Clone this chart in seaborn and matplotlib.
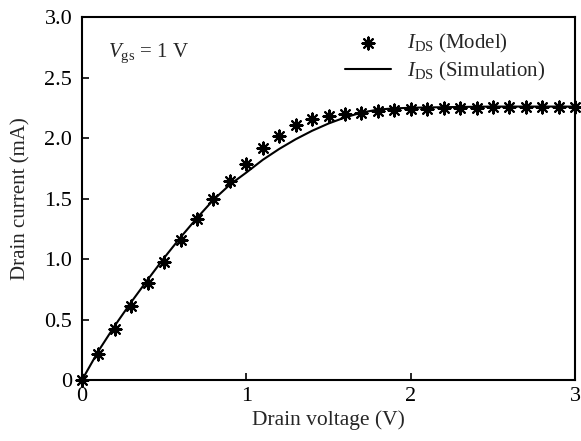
import numpy as np
import pandas as pd
import matplotlib
matplotlib.use("Agg")
import matplotlib.pyplot as plt
import seaborn as sns

# Data
vd_model = [0.0, 0.1, 0.2, 0.3, 0.4, 0.5, 0.6, 0.7, 0.8, 0.9, 1.0,
            1.1, 1.2, 1.3, 1.4, 1.5, 1.6, 1.7, 1.8, 1.9, 2.0,
            2.1, 2.2, 2.3, 2.4, 2.5, 2.6, 2.7, 2.8, 2.9, 3.0]
id_model = [0.0, 0.22, 0.42, 0.61, 0.80, 0.98, 1.16, 1.33, 1.50, 1.645, 1.785,
            1.92, 2.02, 2.11, 2.16, 2.18, 2.20, 2.21, 2.225, 2.23, 2.24,
            2.24, 2.245, 2.25, 2.25, 2.255, 2.255, 2.26, 2.26, 2.26, 2.26]
vd_sim = [0.0, 0.1, 0.2, 0.3, 0.4, 0.5, 0.6, 0.7, 0.8, 0.9, 1.0,
          1.1, 1.2, 1.3, 1.4, 1.5, 1.6, 1.7, 1.8, 1.9, 2.0,
          2.2, 2.5, 3.0]
id_sim = [0.0, 0.24, 0.45, 0.645, 0.83, 1.01, 1.18, 1.34, 1.49, 1.615, 1.715,
          1.82, 1.91, 1.99, 2.06, 2.12, 2.17, 2.21, 2.235, 2.245, 2.25,
          2.255, 2.26, 2.26]
xticks = [0, 1, 2, 3]
xticklabels = ["0", "1", "2", "3"]
yticks = [0, 0.5, 1.0, 1.5, 2.0, 2.5, 3.0]
yticklabels = ["0", "0.5", "1.0", "1.5", "2.0", "2.5", "3.0"]

df_model = pd.DataFrame({"V": vd_model, "I": id_model})
df_sim = pd.DataFrame({"V": vd_sim, "I": id_sim})

sns.set_style("ticks")
plt.rcParams["font.family"] = ["Liberation Serif", "DejaVu Serif"]
plt.rcParams["mathtext.fontset"] = "custom"
plt.rcParams["mathtext.rm"] = "Liberation Serif"
plt.rcParams["mathtext.it"] = "Liberation Serif:italic"
plt.rcParams["mathtext.bf"] = "Liberation Serif:bold"

fig = plt.figure(figsize=(5.81, 4.41), dpi=100)
ax = fig.add_axes([0.141, 0.138, 0.849, 0.8235])

sns.lineplot(data=df_sim, x="V", y="I", ax=ax, color="black", linewidth=1.5,
             label=r"$I_{\mathrm{DS}}$ (Simulation)")
sns.scatterplot(data=df_model, x="V", y="I", ax=ax, marker=(8, 2, 0), s=75,
                color="black", edgecolor="black", linewidth=1.5,
                label=r"$I_{\mathrm{DS}}$ (Model)", zorder=3, clip_on=False)

ax.set_xlim(0, 3)
ax.set_ylim(0, 3)
ax.set_xticks(xticks)
ax.set_xticklabels(xticklabels)
ax.set_yticks(yticks)
ax.set_yticklabels(yticklabels)
ax.tick_params(direction="in", length=5, width=1.2, labelsize=16,
               top=False, right=False, colors="black")
ax.tick_params(axis="x", pad=5)
ax.tick_params(axis="y", pad=7)
for sp in ax.spines.values():
    sp.set_visible(True)
    sp.set_linewidth(1.5)
    sp.set_color("black")

ax.set_xlabel("Drain voltage (V)", fontsize=15.5, labelpad=3)
ax.set_ylabel("Drain current (mA)", fontsize=15, labelpad=10)

ax.text(0.053, 0.9, r"$V_{\mathrm{gs}}$ = 1 V", transform=ax.transAxes,
        fontsize=15, ha="left", va="center")

handles, labels = ax.get_legend_handles_labels()
order = [1, 0]
ax.legend([handles[i] for i in order], [labels[i] for i in order],
          loc="upper right", bbox_to_anchor=(0.969, 1.0),
          frameon=False, fontsize=15, handlelength=2.2,
          borderaxespad=0.3, handletextpad=0.8, labelspacing=0.25)

fig.savefig("out.png", dpi=100)
